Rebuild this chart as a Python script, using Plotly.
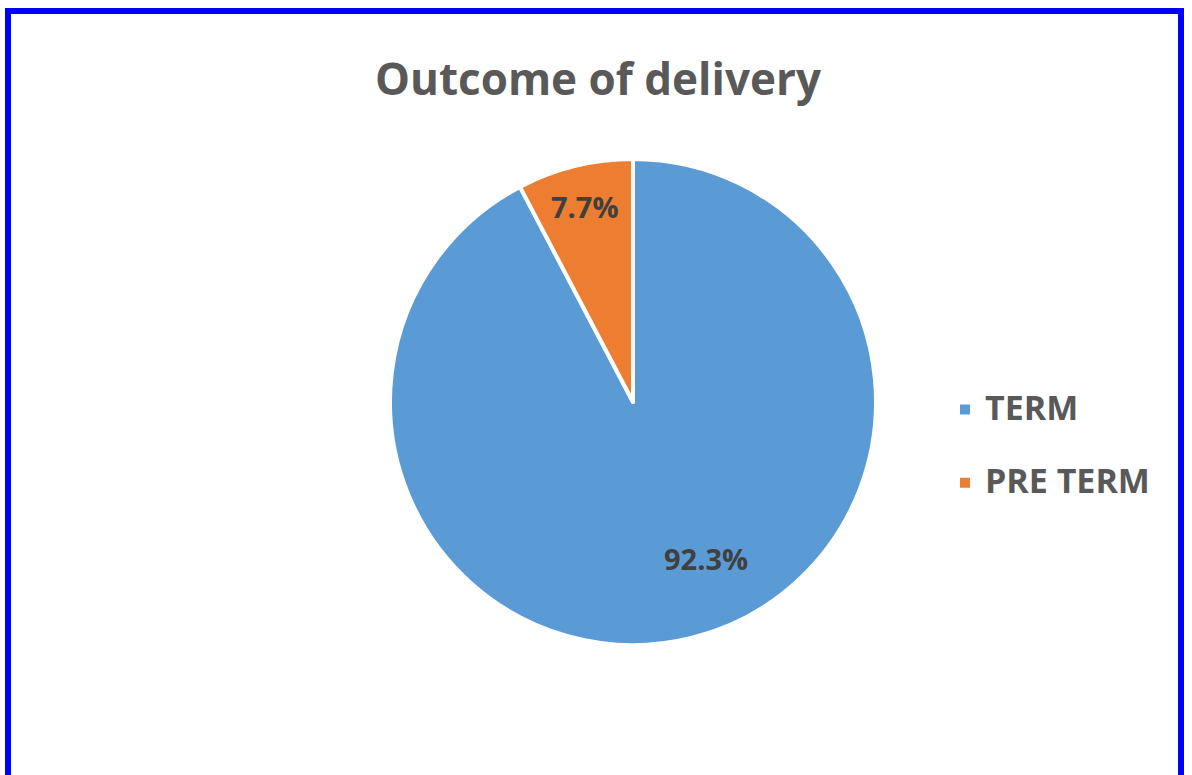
import math
import plotly.graph_objects as go

# Delivery outcome shares (percent)
categories = ["TERM", "PRE TERM"]
shares = [92.3, 7.7]
slice_colors = ["#5B9BD5", "#ED7D31"]

# Data-label placement: fraction of the radius and angular nudge (degrees)
label_radius = [0.71, 0.83]
label_nudge = [-11, 0]

W, H = 1192, 775
CX, CY, R = 633, 402, 243  # pie centre and radius in pixels

# Legend entries carry an empty second line so the rows sit further apart
legend_labels = [f'<span style="font-size:34px">{c}</span><br> ' for c in categories]

fig = go.Figure(
    go.Pie(
        labels=legend_labels,
        values=shares,
        customdata=categories,
        sort=False,
        direction="clockwise",
        rotation=0,
        marker=dict(colors=slice_colors, line=dict(color="white", width=4)),
        textinfo="none",
        hovertemplate="%{customdata}: %{value}%<extra></extra>",
        domain=dict(x=[(CX - R) / W, (CX + R) / W],
                    y=[(H - CY - R) / H, (H - CY + R) / H]),
    )
)

# Percentage labels placed around each slice's middle angle
total = sum(shares)
annotations = []
cum = 0.0
for share, f, nudge in zip(shares, label_radius, label_nudge):
    mid = math.radians((cum + share / 2) / total * 360 + nudge)
    cum += share
    px = CX + f * R * math.sin(mid)
    py = CY - f * R * math.cos(mid)
    annotations.append(dict(
        x=px / W, y=1 - py / H, xref="paper", yref="paper",
        text=f"<b>{share:.1f}%</b>", showarrow=False,
        xanchor="center", yanchor="middle",
        font=dict(family="Open Sans", size=29, color="#404040"),
    ))

fig.update_layout(
    width=W,
    height=H,
    margin=dict(l=0, r=0, t=0, b=0),
    paper_bgcolor="white",
    plot_bgcolor="white",
    title=dict(
        text="<b>Outcome of delivery</b>",
        x=598 / W,
        xanchor="center",
        y=1 - 80 / H,
        yanchor="middle",
        font=dict(family="Open Sans", size=44, color="#595959"),
    ),
    legend=dict(
        x=945 / W,
        xanchor="left",
        y=1 - 464 / H,
        yanchor="middle",
        valign="top",
        font=dict(family="Open Sans", size=27, color="#595959", weight="bold"),
        itemsizing="constant",
    ),
    annotations=annotations,
    shapes=[
        dict(
            type="rect",
            xref="paper",
            yref="paper",
            x0=8 / W,
            x1=1181 / W,
            y0=-0.05,
            y1=1 - 11 / H,
            line=dict(color="#0000FF", width=6),
            fillcolor="rgba(0,0,0,0)",
            layer="above",
        )
    ],
)

fig.write_html("out.html")
